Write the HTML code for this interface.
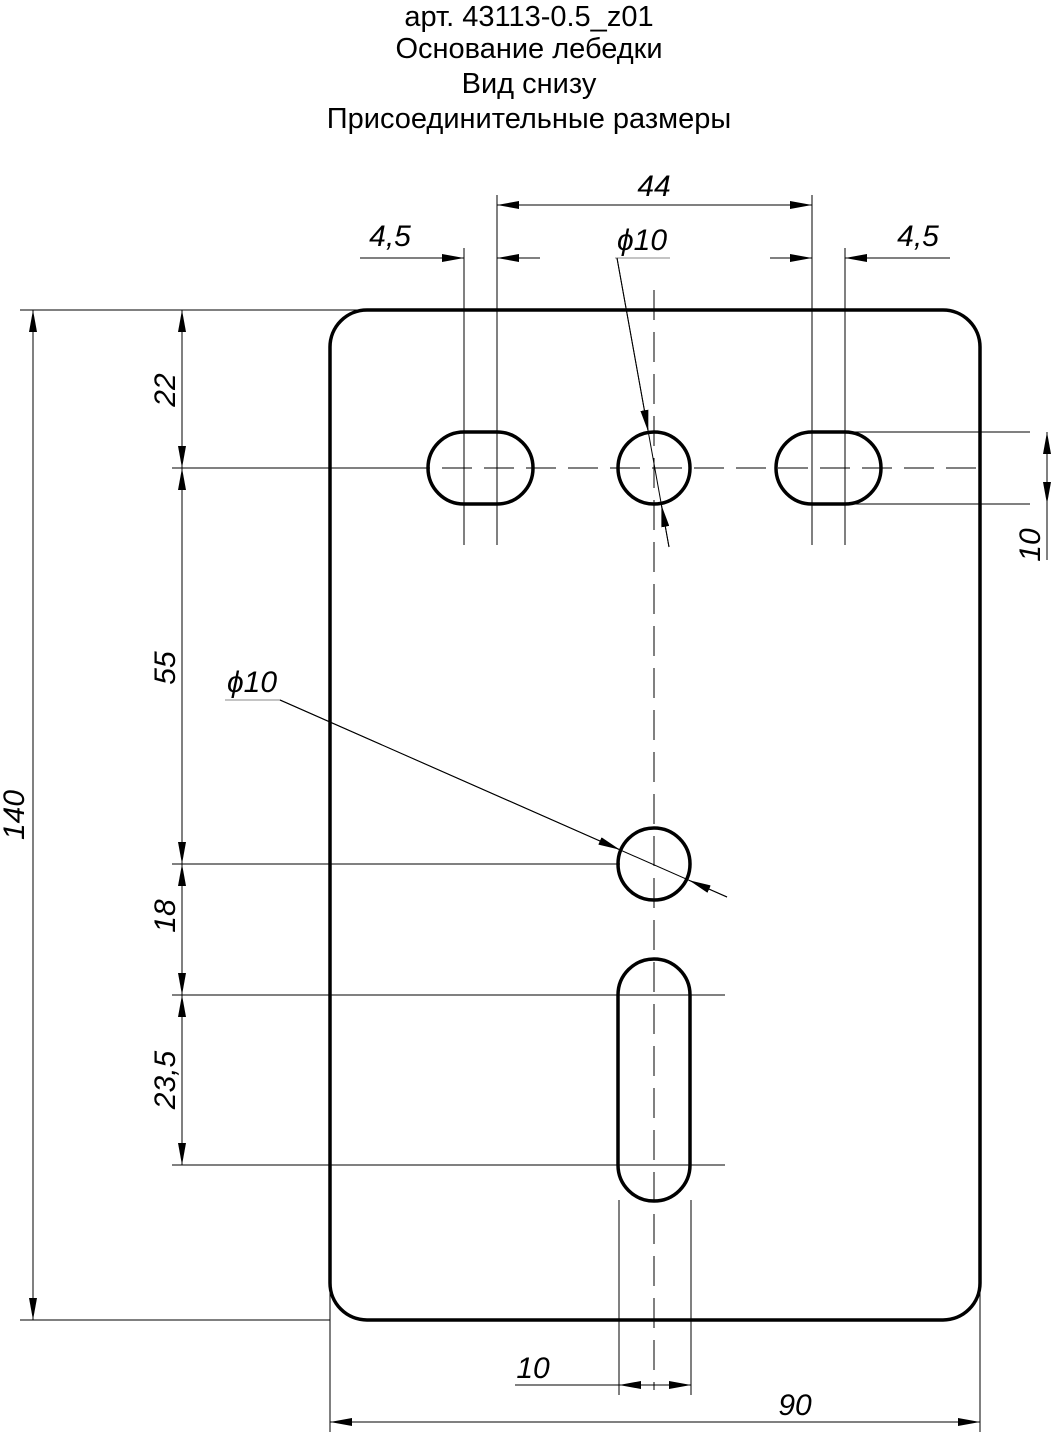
<!DOCTYPE html>
<html><head><meta charset="utf-8"><style>
html,body{margin:0;padding:0;background:#fff}
svg{display:block}
text{font-family:"Liberation Sans",sans-serif;fill:#000}
.d{font-style:italic;font-size:30px}
</style></head><body>
<svg width="1059" height="1435" viewBox="0 0 1059 1435" xmlns="http://www.w3.org/2000/svg">
<defs>
<marker id="a" viewBox="0 0 22 8" refX="22" refY="4" markerWidth="22" markerHeight="8" markerUnits="userSpaceOnUse" orient="auto-start-reverse"><path d="M0,0 L22,4 L0,8 z" fill="#000"/></marker>
</defs>
<g text-anchor="middle" font-size="29">
<text x="529" y="26">арт. 43113-0.5_z01</text>
<text x="529" y="58">Основание лебедки</text>
<text x="529" y="93">Вид снизу</text>
<text x="529" y="128">Присоединительные размеры</text>
</g>
<rect x="330" y="310" width="650" height="1010" rx="37" fill="none" stroke="#000" stroke-width="3.5"/>
<g fill="none" stroke="#000" stroke-width="3.5">
<circle cx="654" cy="468" r="36"/>
<circle cx="654" cy="864" r="36"/>
<path d="M464,432 H497 A36,36 0 0 1 497,504 H464 A36,36 0 0 1 464,432 Z"/>
<path d="M812,432 H845 A36,36 0 0 1 845,504 H812 A36,36 0 0 1 812,432 Z"/>
<path d="M618,995 A36,36 0 0 1 690,995 V1165 A36,36 0 0 1 618,1165 Z"/>
</g>
<g stroke="#000" stroke-width="1" fill="none" stroke-dasharray="30,12">
<line x1="654" y1="290" x2="654" y2="1390"/>
<line x1="400" y1="468" x2="980" y2="468"/>
</g>
<g stroke="#000" stroke-width="1" fill="none">
<line x1="20" y1="310" x2="370" y2="310"/>
<line x1="20" y1="1320" x2="330" y2="1320"/>
<line x1="172" y1="468" x2="400" y2="468"/>
<line x1="172" y1="864" x2="620" y2="864"/>
<line x1="172" y1="995" x2="725" y2="995"/>
<line x1="172" y1="1165" x2="725" y2="1165"/>
<line x1="497" y1="195" x2="497" y2="545"/>
<line x1="812" y1="195" x2="812" y2="545"/>
<line x1="464" y1="248" x2="464" y2="545"/>
<line x1="845" y1="248" x2="845" y2="545"/>
<line x1="850" y1="432" x2="1030" y2="432"/>
<line x1="850" y1="504" x2="1030" y2="504"/>
<line x1="619" y1="1200" x2="619" y2="1395"/>
<line x1="691" y1="1200" x2="691" y2="1395"/>
<line x1="330" y1="1290" x2="330" y2="1432"/>
<line x1="980" y1="1290" x2="980" y2="1432"/>
<line x1="33" y1="310" x2="33" y2="1320" marker-start="url(#a)" marker-end="url(#a)"/>
<line x1="182" y1="310" x2="182" y2="468" marker-start="url(#a)" marker-end="url(#a)"/>
<line x1="182" y1="468" x2="182" y2="864" marker-start="url(#a)" marker-end="url(#a)"/>
<line x1="182" y1="864" x2="182" y2="995" marker-start="url(#a)" marker-end="url(#a)"/>
<line x1="182" y1="995" x2="182" y2="1165" marker-start="url(#a)" marker-end="url(#a)"/>
<line x1="497" y1="205" x2="812" y2="205" marker-start="url(#a)" marker-end="url(#a)"/>
<line x1="360" y1="258" x2="464" y2="258" marker-end="url(#a)"/>
<line x1="540" y1="258" x2="497" y2="258" marker-end="url(#a)"/>
<line x1="770" y1="258" x2="812" y2="258" marker-end="url(#a)"/>
<line x1="950" y1="258" x2="845" y2="258" marker-end="url(#a)"/>
<line x1="1047" y1="432" x2="1047" y2="504" marker-start="url(#a)" marker-end="url(#a)"/>
<line x1="1047" y1="504" x2="1047" y2="560"/>
<line x1="515" y1="1385" x2="691" y2="1385" marker-end="url(#a)"/>
<line x1="619" y1="1385" x2="650" y2="1385" marker-start="url(#a)"/>
<line x1="330" y1="1422" x2="980" y2="1422" marker-start="url(#a)" marker-end="url(#a)"/>
<line x1="615" y1="258" x2="670" y2="258" stroke="#888"/>
<line x1="617" y1="258" x2="669" y2="547"/>
<line x1="617" y1="258" x2="648.3" y2="432" marker-end="url(#a)"/>
<line x1="669" y1="547" x2="661.4" y2="505" marker-end="url(#a)"/>
<line x1="225" y1="700" x2="280" y2="700" stroke="#888"/>
<line x1="280" y1="700" x2="727" y2="897"/>
<line x1="280" y1="700" x2="620" y2="849.8" marker-end="url(#a)"/>
<line x1="727" y1="897" x2="689" y2="880.3" marker-end="url(#a)"/>
</g>
<g class="d">
<text x="654" y="196" text-anchor="middle">44</text>
<text x="390" y="246" text-anchor="middle">4,5</text>
<text x="918" y="246" text-anchor="middle">4,5</text>
<text x="642" y="250" text-anchor="middle">ϕ10</text>
<text x="252" y="692" text-anchor="middle">ϕ10</text>
<text x="533" y="1378" text-anchor="middle">10</text>
<text x="795" y="1415" text-anchor="middle">90</text>
<text transform="translate(24,815) rotate(-90)" text-anchor="middle">140</text>
<text transform="translate(175,390) rotate(-90)" text-anchor="middle">22</text>
<text transform="translate(175,668) rotate(-90)" text-anchor="middle">55</text>
<text transform="translate(175,916) rotate(-90)" text-anchor="middle">18</text>
<text transform="translate(175,1080) rotate(-90)" text-anchor="middle">23,5</text>
<text transform="translate(1040,545) rotate(-90)" text-anchor="middle">10</text>
</g>
</svg>
</body></html>
